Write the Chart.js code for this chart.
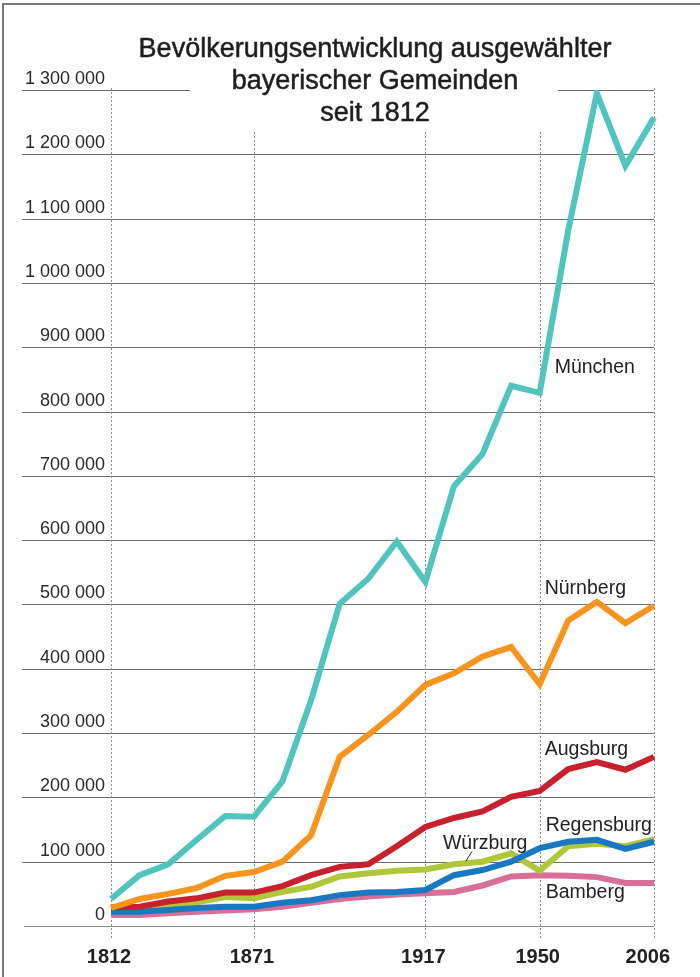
<!DOCTYPE html>
<html>
<head>
<meta charset="utf-8">
<script src="https://cdn.jsdelivr.net/npm/chart.js@4/dist/chart.umd.min.js"></script>
<style>
  html, body { margin: 0; padding: 0; background: #fff; }
  canvas { display: block; }
</style>
</head>
<body>
<canvas id="chart" width="700" height="977"></canvas>
<script>
// census years (category axis, equally spaced)
const years = ['1812', '1840', '1852', '1861', '1867', '1871', '1880', '1890', '1900', '1905',
  '1910', '1917', '1925', '1933', '1939', '1950', '1961', '1970', '1987', '2006'];
const shownYears = ['1812', '1871', '1917', '1950', '2006'];
const yTicks = [0, 100000, 200000, 300000, 400000, 500000, 600000, 700000, 800000, 900000,
  1000000, 1100000, 1200000, 1300000];
const titleLines = ['Bevölkerungsentwicklung ausgewählter', 'bayerischer Gemeinden', 'seit 1812'];

const muenchen = [42000, 79000, 96000, 134000, 171000, 170000, 225000, 351000, 501000, 540000,
  598000, 535000, 684000, 734000, 840000, 829000, 1082000, 1295000, 1182000, 1257000];
const nuernberg = [28000, 42000, 50000, 59000, 78000, 84000, 100000, 141000, 263000, 297000,
  333000, 375000, 393000, 419000, 434000, 376000, 475000, 504000, 471000, 498000];
const augsburg = [29000, 30000, 38000, 43000, 52000, 52000, 62000, 79000, 92000, 96000,
  124000, 154000, 168000, 178000, 201000, 210000, 244000, 255000, 243000, 263000];
const regensburg = [22000, 22000, 25000, 28000, 30000, 30000, 36000, 40000, 48000, 52000,
  53000, 56000, 79000, 87000, 100000, 121000, 131000, 134000, 120000, 131000];
const wuerzburg = [25000, 26000, 33000, 37000, 45000, 43000, 53000, 61000, 77000, 82000,
  86000, 88000, 96000, 100000, 113000, 86000, 124000, 128000, 124000, 135000];
const bamberg = [17000, 17000, 20000, 22000, 24000, 26000, 30000, 36000, 42000, 46000,
  49000, 51000, 53000, 63000, 77000, 79000, 78000, 76000, 67000, 67000];

// "1 300 000"
function fmt(v) {
  return String(v).replace(/\B(?=(\d{3})+(?!\d))/g, ' ');
}

const decor = {
  id: 'decor',
  beforeDraw(chart) {
    const ctx = chart.ctx;
    const area = chart.chartArea;
    const xs = chart.scales.x;
    const ys = chart.scales.y;
    ctx.save();
    ctx.fillStyle = '#fff';
    ctx.fillRect(0, 0, chart.width, chart.height);

    // horizontal grid + labels above the lines
    ctx.font = '18px "Liberation Sans", Arial, sans-serif';
    ctx.textAlign = 'right';
    ctx.textBaseline = 'alphabetic';
    yTicks.forEach(v => {
      const y = Math.round(ys.getPixelForValue(v)) + 0.5;
      ctx.strokeStyle = v === 0 ? '#8c8c8c' : '#6e6e6e';
      ctx.lineWidth = 1.2;
      ctx.beginPath();
      ctx.moveTo(v === 0 ? 24 : 22, y);
      ctx.lineTo(area.right, y);
      ctx.stroke();
      ctx.fillStyle = '#2a2a2a';
      ctx.fillText(fmt(v), 105, y - 6.5);
    });

    // dotted verticals
    ctx.strokeStyle = '#8a8a8a';
    ctx.lineWidth = 1;
    ctx.setLineDash([2, 2]);
    shownYears.forEach(yr => {
      const x = Math.round(xs.getPixelForValue(years.indexOf(yr))) + 0.5;
      ctx.beginPath();
      ctx.moveTo(x, area.top - 2);
      ctx.lineTo(x, area.bottom + 12);
      ctx.stroke();
    });
    ctx.setLineDash([]);

    // title box
    ctx.fillStyle = '#fff';
    ctx.fillRect(190, 0, 368, 132);
    ctx.fillStyle = '#1e1e1e';
    ctx.strokeStyle = '#1e1e1e';
    ctx.lineWidth = 0.5;
    ctx.textAlign = 'center';
    ctx.font = '27px "Liberation Sans", Arial, sans-serif';
    titleLines.forEach((t, i) => {
      ctx.fillText(t, 375, 57 + i * 32);
      ctx.strokeText(t, 375, 57 + i * 32);
    });

    // frame
    ctx.strokeStyle = '#7a7a7a';
    ctx.lineWidth = 2;
    ctx.beginPath();
    ctx.moveTo(3, chart.height);
    ctx.lineTo(3, 4);
    ctx.lineTo(chart.width, 4);
    ctx.stroke();
    ctx.restore();
  },
  afterDatasetsDraw(chart) {
    const ctx = chart.ctx;
    const area = chart.chartArea;
    const xs = chart.scales.x;
    const ys = chart.scales.y;
    ctx.save();

    // series names
    ctx.fillStyle = '#222';
    ctx.font = '19.5px "Liberation Sans", Arial, sans-serif';
    ctx.textAlign = 'left';
    const x15 = xs.getPixelForValue(15);
    ctx.fillText('München', x15 + 15, ys.getPixelForValue(860000));
    ctx.fillText('Nürnberg', x15 + 5, ys.getPixelForValue(517000));
    ctx.fillText('Augsburg', x15 + 5, ys.getPixelForValue(266000));
    ctx.fillText('Regensburg', x15 + 6, ys.getPixelForValue(148000));
    ctx.fillText('Bamberg', x15 + 6, ys.getPixelForValue(43000));
    const x12 = xs.getPixelForValue(12);
    ctx.fillText('Würzburg', x12 - 11, ys.getPixelForValue(120000));
    // leader line to Würzburg
    ctx.strokeStyle = '#222';
    ctx.lineWidth = 1;
    ctx.beginPath();
    ctx.moveTo(x12 + 18, ys.getPixelForValue(116000));
    ctx.lineTo(x12 + 12, ys.getPixelForValue(101000));
    ctx.stroke();

    // x labels
    ctx.font = 'bold 20px "Liberation Sans", Arial, sans-serif';
    ctx.fillStyle = '#222';
    shownYears.forEach((yr, i) => {
      const x = xs.getPixelForValue(years.indexOf(yr));
      if (i === shownYears.length - 1) {
        ctx.textAlign = 'right';
        ctx.fillText(yr, x + 16, area.bottom + 37);
      } else {
        ctx.textAlign = 'center';
        ctx.fillText(yr, x - 2, area.bottom + 37);
      }
    });
    ctx.restore();
  }
};

function series(label, data, color) {
  return {
    label: label,
    data: data,
    borderColor: color,
    backgroundColor: color,
    borderWidth: 6,
    borderJoinStyle: 'miter',
    borderCapStyle: 'butt',
    pointRadius: 0,
    tension: 0,
    fill: false
  };
}

new Chart(document.getElementById('chart'), {
  type: 'line',
  data: {
    labels: years,
    datasets: [
      series('München', muenchen, '#50c4bd'),
      series('Nürnberg', nuernberg, '#f7941e'),
      series('Augsburg', augsburg, '#c9202e'),
      series('Regensburg', regensburg, '#1a78c2'),
      series('Würzburg', wuerzburg, '#b2c63a'),
      series('Bamberg', bamberg, '#d86f98')
    ]
  },
  options: {
    responsive: false,
    animation: false,
    devicePixelRatio: 1,
    layout: { padding: { left: 111, right: 46, top: 90, bottom: 51 } },
    plugins: { legend: { display: false }, tooltip: { enabled: false } },
    scales: {
      x: { display: false, offset: false },
      y: { display: false, min: 0, max: 1300000 }
    }
  },
  plugins: [decor]
});
</script>
</body>
</html>
